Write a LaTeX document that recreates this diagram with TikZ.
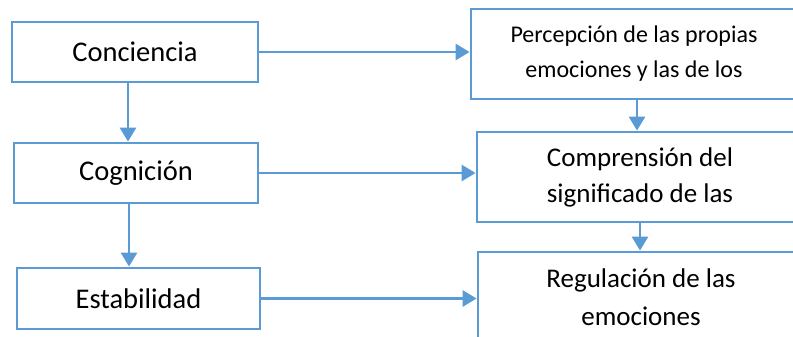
\documentclass[tikz,border=0pt]{standalone}
\usepackage{fontspec}
\setmainfont{Carlito}
\usetikzlibrary{arrows.meta}
\definecolor{oblue}{HTML}{5B9BD5}
\begin{document}
\begin{tikzpicture}[x=1pt,y=-1pt,
  lbox/.style={draw=oblue, line width=2.8pt, minimum height=60pt, inner sep=0pt,
    font=\fontsize{28.5}{34}\selectfont},
  rbox/.style={draw=oblue, line width=2.8pt, minimum width=326pt, minimum height=90pt,
    inner sep=0pt, align=center},
  arr/.style={draw=oblue, line width=2.8pt, -{Triangle[length=14pt,width=16pt]}}]
\useasboundingbox (0,0) rectangle (793,337);
\clip (0,0) rectangle (793,337);
% left column
\node[lbox, minimum width=246pt] (con) at (135,52) {Conciencia};
\node[lbox, minimum width=244pt] (cog) at (136,173) {Cognición};
\node[lbox, minimum width=243pt, minimum height=61pt] (est) at (138.5,298.5) {Estabilidad};
% right column
\node[rbox, font=\fontsize{24}{35}\selectfont] (per) at (634,54) {Percepción de las propias\\emociones y las de los};
\node[rbox, font=\fontsize{27}{36}\selectfont] (com) at (640,177) {Comprensión del\\significado de las};
\node[rbox, font=\fontsize{27}{38}\selectfont] (reg) at (641,297) {Regulación de las\\emociones};
% helper coordinates
\coordinate (xa) at (128,0);
\coordinate (xb) at (129,0);
\coordinate (xc) at (637,0);
\coordinate (xd) at (640,0);
% connectors
\draw[arr] (con.south -| xa) -- (cog.north -| xa);
\draw[arr] (cog.south -| xb) -- (est.north -| xb);
\draw[arr] (con.east) -- (con.east -| per.west);
\draw[arr] (cog.east) -- (cog.east -| com.west);
\draw[arr] (est.east) -- (est.east -| reg.west);
\draw[arr] (per.south -| xc) -- (com.north -| xc);
\draw[arr] (com.south -| xd) -- (reg.north -| xd);
\end{tikzpicture}
\end{document}
